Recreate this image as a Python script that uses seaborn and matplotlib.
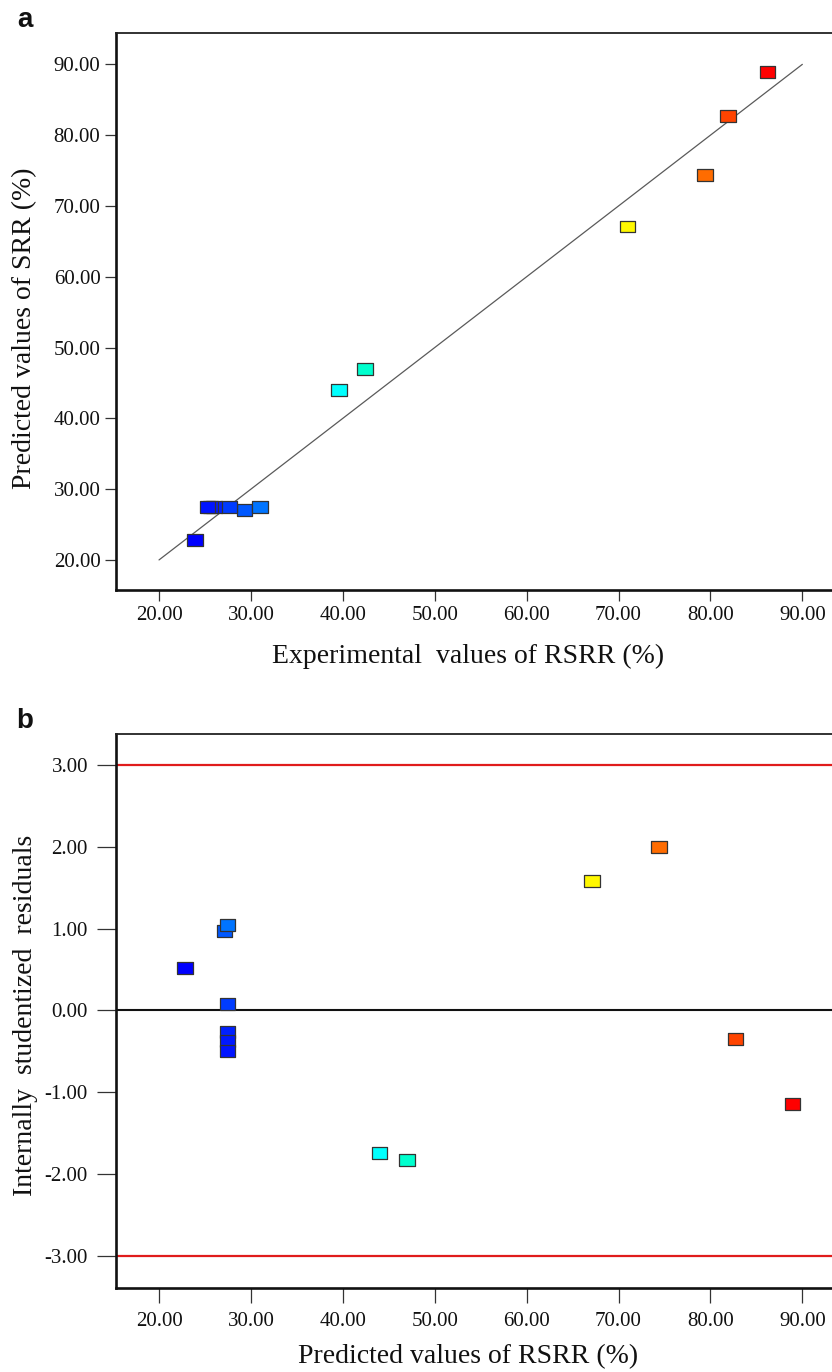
import matplotlib
matplotlib.use("Agg")
import matplotlib.pyplot as plt
from matplotlib.colors import LinearSegmentedColormap
from matplotlib.markers import MarkerStyle
import numpy as np
import pandas as pd
import seaborn as sns

# Experimental RSRR (%) for each run
experimental = [86.2, 81.9, 79.4, 71.0, 39.6, 42.4, 23.9, 29.3, 31.0, 27.6, 26.0, 25.6, 25.3]
# Model-predicted values (%) for the same runs
predicted = [88.95, 82.75, 74.4, 67.1, 44.0, 47.0, 22.8, 27.1, 27.45, 27.45, 27.45, 27.45, 27.45]
# Internally studentized residuals for the same runs
residuals = [-1.14, -0.35, 2.00, 1.58, -1.75, -1.83, 0.52, 0.97, 1.04, 0.08, -0.26, -0.38, -0.50]

# y = x reference line range and residual control limit
ref_range = [20.0, 90.0]
residual_limit = 3.00

# Tick positions and labels
pct_ticks = [20, 30, 40, 50, 60, 70, 80, 90]
pct_labels = ["20.00", "30.00", "40.00", "50.00", "60.00", "70.00", "80.00", "90.00"]
res_ticks = [-3, -2, -1, 0, 1, 2, 3]
res_labels = ["-3.00", "-2.00", "-1.00", "0.00", "1.00", "2.00", "3.00"]

df = pd.DataFrame({"experimental": experimental,
                   "predicted": predicted,
                   "residual": residuals})

sns.set_theme(style="ticks")
plt.rcParams["font.family"] = ["Liberation Serif", "DejaVu Serif"]
plt.rcParams["text.color"] = "#111111"
plt.rcParams["axes.labelcolor"] = "#111111"
plt.rcParams["xtick.color"] = "#333333"
plt.rcParams["ytick.color"] = "#333333"
plt.rcParams["xtick.labelcolor"] = "#111111"
plt.rcParams["ytick.labelcolor"] = "#111111"

# Blue -> cyan -> green -> yellow -> red colouring by response value
cmap = LinearSegmentedColormap.from_list(
    "response", ["#0000ff", "#00ffff", "#00ff00", "#ffff00", "#ff0000"])
hue_norm = (min(experimental), max(experimental))

# Slightly wide rectangle marker
rect = MarkerStyle(np.array([[-1.3, -1.0], [1.3, -1.0], [1.3, 1.0], [-1.3, 1.0], [-1.3, -1.0]]))

fig = plt.figure(figsize=(8.32, 13.72), dpi=100)
ax_a = fig.add_axes([0.1391, 0.5698, 0.8805, 0.4059])
ax_b = fig.add_axes([0.1391, 0.0612, 0.8805, 0.4036])

point_kws = dict(hue="experimental", palette=cmap, hue_norm=hue_norm,
                 marker=rect, s=125, edgecolor="#333333", linewidth=0.9,
                 legend=False, zorder=3)

# Panel a: predicted vs experimental
ax_a.plot(ref_range, ref_range, color="#5a5a5a", lw=0.9, zorder=2)
sns.scatterplot(data=df, x="experimental", y="predicted", ax=ax_a, **point_kws)
ax_a.set_xlim(15.29, 95.0)
ax_a.set_ylim(15.72, 94.38)
ax_a.set_xticks(pct_ticks)
ax_a.set_xticklabels(pct_labels)
ax_a.set_yticks(pct_ticks)
ax_a.set_yticklabels(pct_labels)
ax_a.set_xlabel("Experimental  values of RSRR (%)", fontsize=20, va="center")
ax_a.set_ylabel("Predicted values of SRR (%)", fontsize=20, va="center")
ax_a.xaxis.set_label_coords(0.481, -0.1197)
ax_a.yaxis.set_label_coords(-0.1238, 0.471)
ax_a.tick_params(axis="both", direction="out", length=8, width=0.9, labelsize=15, pad=3)

# Panel b: residuals vs predicted
ax_b.axhline(residual_limit, color="#e01c1c", lw=1.6, zorder=2)
ax_b.axhline(-residual_limit, color="#e01c1c", lw=1.6, zorder=2)
ax_b.axhline(0.0, color="#111111", lw=1.5, zorder=2)
sns.scatterplot(data=df, x="predicted", y="residual", ax=ax_b, **point_kws)
ax_b.set_xlim(15.29, 95.0)
ax_b.set_ylim(-3.396, 3.375)
ax_b.set_xticks(pct_ticks)
ax_b.set_xticklabels(pct_labels)
ax_b.set_yticks(res_ticks)
ax_b.set_yticklabels(res_labels)
ax_b.set_xlabel("Predicted values of RSRR (%)", fontsize=20, va="center")
ax_b.set_ylabel("Internally  studentized  residuals", fontsize=20, va="center")
ax_b.xaxis.set_label_coords(0.481, -0.1246)
ax_b.yaxis.set_label_coords(-0.1238, 0.493)
ax_b.tick_params(axis="x", direction="out", length=11, width=0.9, labelsize=15, pad=6)
ax_b.tick_params(axis="y", direction="out", length=14, width=0.9, labelsize=15, pad=6)

for ax in (ax_a, ax_b):
    ax.spines["right"].set_visible(False)
    ax.spines["top"].set_linewidth(1.3)
    ax.spines["top"].set_color("#222222")
    for side in ("left", "bottom"):
        ax.spines[side].set_linewidth(1.9)
        ax.spines[side].set_color("#111111")

# Panel letters
fig.text(24.7 / 832, 1 - 19.7 / 1372, "a", fontsize=20, fontweight="bold",
         family=["Liberation Sans", "DejaVu Sans"], ha="center", va="center")
fig.text(24.7 / 832, 1 - 720.7 / 1372, "b", fontsize=20, fontweight="bold",
         family=["Liberation Sans", "DejaVu Sans"], ha="center", va="center")

fig.savefig("out.png", dpi=100)
